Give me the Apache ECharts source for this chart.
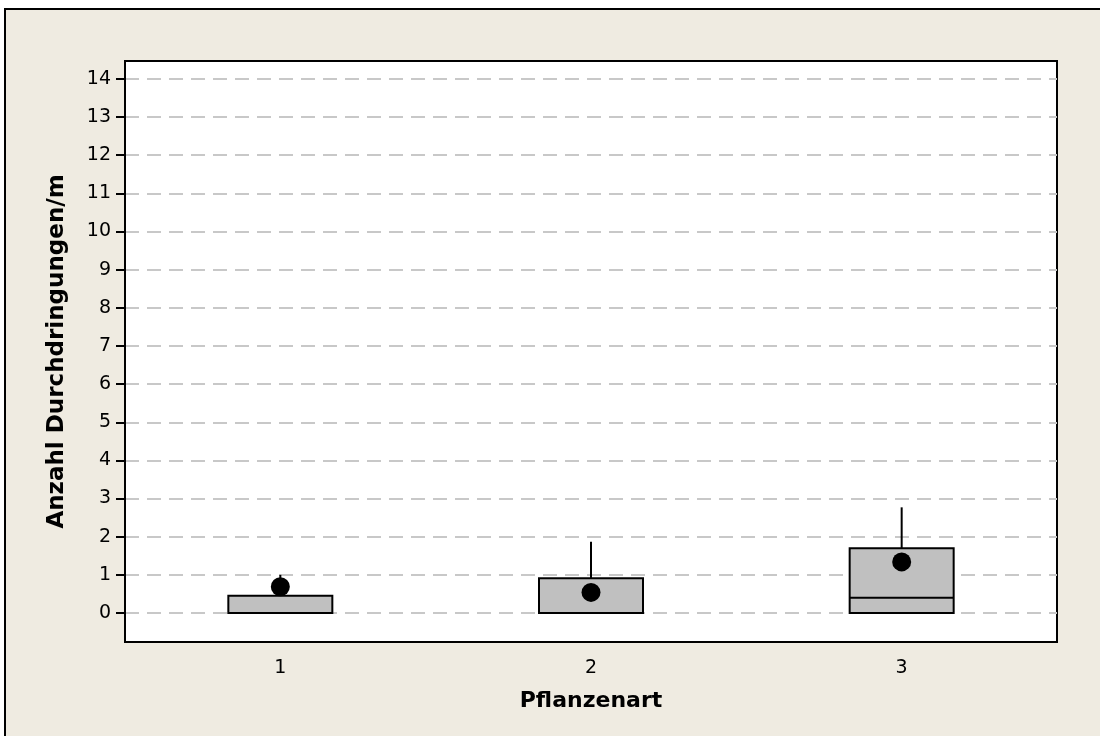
<!DOCTYPE html>
<html>
<head>
<meta charset="utf-8">
<script src="https://cdn.jsdelivr.net/npm/echarts@6/dist/echarts.min.js"></script>
<style>
html, body { margin: 0; padding: 0; background: #fff; overflow: hidden; width: 1100px; height: 736px; }
#frame { position: absolute; left: 4px; top: 8px; width: 1094px; height: 726px;
  border-top: 2px solid #000; border-left: 2px solid #000; background: #EFEBE1; }
#chart { position: absolute; left: 0; top: 0; width: 1100px; height: 736px; }
</style>
</head>
<body>
<div id="frame"></div>
<div id="chart"></div>
<script>
// Pflanzenart
var categories = ['1', '2', '3'];
// box plot values
var whiskerLow = [0, 0, 0];
var q1 = [0, 0, 0];
var median = [0, 0, 0.4];
var q3 = [0.45, 0.91, 1.7];
var whiskerHigh = [1.0, 1.87, 2.77];
var means = [0.69, 0.54, 1.34];
var yTicks = [0, 1, 2, 3, 4, 5, 6, 7, 8, 9, 10, 11, 12, 13, 14];

var boxData = categories.map(function (c, i) {
	return [i, whiskerLow[i], q1[i], median[i], q3[i], whiskerHigh[i]];
});
var meanData = categories.map(function (c, i) {
	return [i, means[i]];
});

var labelFont = 'DejaVu Sans, Verdana, sans-serif';

function renderBox(params, api) {
	var x = api.value(0);
	var lo = api.coord([x, api.value(1)]);
	var b1 = api.coord([x, api.value(2)]);
	var md = api.coord([x, api.value(3)]);
	var b3 = api.coord([x, api.value(4)]);
	var hi = api.coord([x, api.value(5)]);
	var w = 104;
	var stroke = { stroke: '#000', lineWidth: 2 };
	return {
		type: 'group',
		children: [
			{ type: 'line', shape: { x1: hi[0], y1: hi[1], x2: b3[0], y2: b3[1] }, style: stroke },
			{ type: 'line', shape: { x1: lo[0], y1: lo[1], x2: b1[0], y2: b1[1] }, style: stroke },
			{ type: 'rect', shape: { x: b3[0] - w / 2, y: b3[1], width: w, height: b1[1] - b3[1] },
				style: { fill: '#C0C0C0', stroke: '#000', lineWidth: 2 } },
			{ type: 'line', shape: { x1: md[0] - w / 2, y1: md[1], x2: md[0] + w / 2, y2: md[1] }, style: stroke }
		]
	};
}

var myChart = echarts.init(document.getElementById('chart'));
var option = {
	backgroundColor: 'transparent',
	animation: false,
	grid: {
		left: 125,
		right: 43,
		top: 61,
		bottom: 94,
		show: true,
		backgroundColor: '#fff',
		borderColor: '#000',
		borderWidth: 2
	},
	xAxis: {
		type: 'category',
		data: categories,
		name: 'Pflanzenart',
		nameLocation: 'middle',
		nameGap: 48,
		nameTextStyle: { fontFamily: labelFont, fontWeight: 'bold', fontSize: 22, color: '#000' },
		axisLine: { onZero: false, lineStyle: { color: '#000', width: 2 } },
		axisTick: { alignWithLabel: true, length: 9, lineStyle: { color: '#000', width: 2 } },
		axisLabel: { margin: 17, fontFamily: labelFont, fontSize: 19, color: '#000' },
		splitLine: { show: false }
	},
	yAxis: {
		type: 'value',
		min: -0.76,
		max: 14.47,
		name: 'Anzahl Durchdringungen/m',
		nameLocation: 'middle',
		nameGap: 56,
		nameTextStyle: { fontFamily: labelFont, fontWeight: 'bold', fontSize: 23, color: '#000' },
		axisLine: { show: true, lineStyle: { color: '#000', width: 2 } },
		axisTick: { show: true, length: 9, customValues: yTicks, lineStyle: { color: '#000', width: 2 } },
		axisLabel: { margin: 14, customValues: yTicks, fontFamily: labelFont, fontSize: 19, color: '#000' },
		splitLine: { show: true, lineStyle: { color: '#C8C8C8', width: 2, type: [14, 8] } }
	},
	series: [
		{
			type: 'custom',
			renderItem: renderBox,
			data: boxData,
			encode: { x: 0, y: [1, 2, 3, 4, 5] },
			z: 2
		},
		{
			type: 'scatter',
			data: meanData,
			symbol: 'circle',
			symbolSize: 19,
			itemStyle: { color: '#000', opacity: 1 },
			z: 3
		}
	]
};
myChart.setOption(option);
window.addEventListener('resize', function () {
	myChart.resize();
});
</script>
</body>
</html>
